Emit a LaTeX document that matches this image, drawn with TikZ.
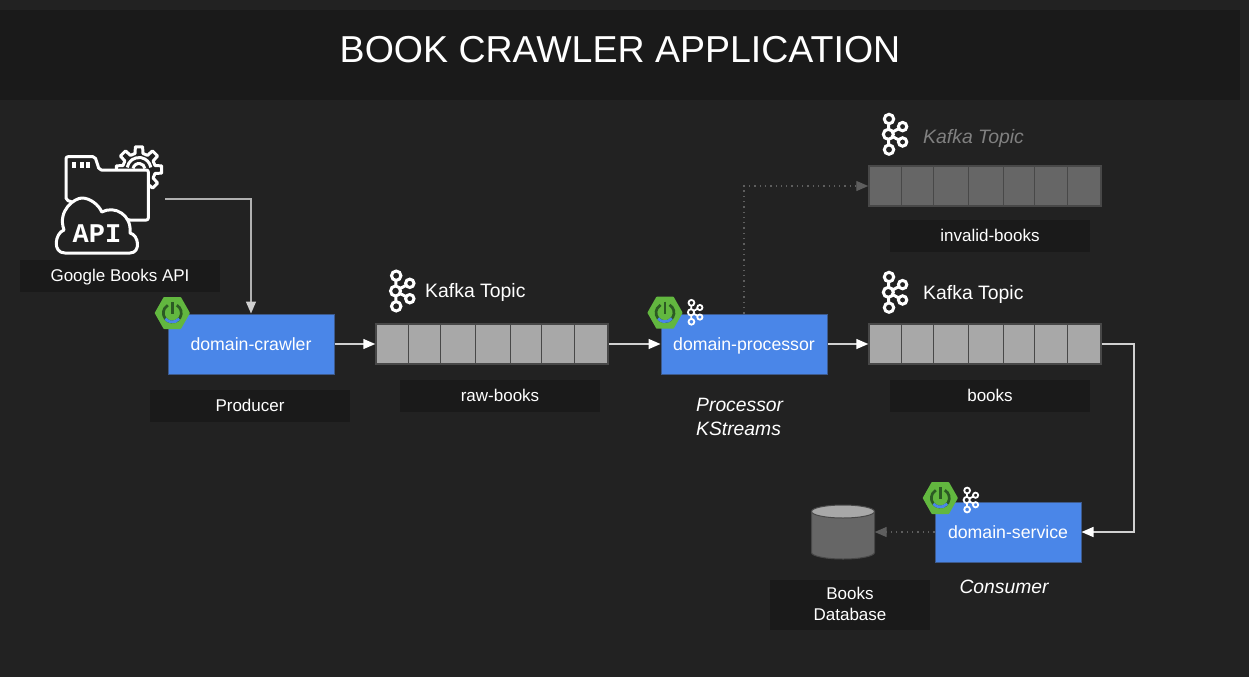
\documentclass[tikz,border=0pt]{standalone}
\usepackage{fontspec}
\setmainfont{Liberation Sans}
\newfontfamily\iconfont{Liberation Mono}
\usetikzlibrary{arrows.meta}
\definecolor{bgdark}{HTML}{222222}
\definecolor{banddark}{HTML}{1A1A1A}
\definecolor{svcblue}{HTML}{4A86E8}
\definecolor{svcedge}{HTML}{3D5A8C}
\definecolor{springgreen}{HTML}{62B73F}
\definecolor{springdark}{HTML}{2C5A24}
\definecolor{cellline}{HTML}{484848}
\definecolor{cellon}{HTML}{A8A8A8}
\definecolor{celloff}{HTML}{666666}
\definecolor{headoff}{HTML}{808080}
\definecolor{arrowon}{HTML}{D0D0D0}
\definecolor{arrowoff}{HTML}{5E5E5E}
\tikzset{
  service/.style={rectangle,draw=svcedge,line width=1pt,fill=svcblue,text=white,minimum height=60pt,inner sep=0pt,text height=16.6pt,text depth=4pt,font=\fontsize{17.7}{20}\selectfont},
  topic/.style={rectangle,draw=cellline,line width=1.5pt,minimum width=232pt,minimum height=40pt,inner sep=0pt},
  tag/.style={rectangle,fill=banddark,text=white,minimum height=32pt,inner sep=0pt,align=center,font=\fontsize{17}{21}\selectfont},
  tagline/.style={tag,minimum width=200pt,text height=16pt,text depth=4.2pt},
  head/.style={anchor=west,text=white,inner sep=0pt,font=\fontsize{19.4}{24}\selectfont},
  note/.style={text=white,inner sep=0pt,align=left,font=\fontsize{19.3}{24}\selectfont\itshape},
  flow/.style={draw=arrowon,line width=1.5pt,-{Triangle[length=12pt,width=10pt,color=white]}},
  apiflow/.style={draw=arrowon!85!black,line width=1.5pt,-{Triangle[length=12pt,width=10pt,color=arrowon]}},
  weakflow/.style={draw=arrowoff,line width=1.3pt,dash pattern=on 1.3pt off 4pt,-{Triangle[length=12pt,width=10pt,color=arrowoff]}},
  pics/kafkaicon/.style={code={
    \foreach \xa/\ya/\xb/\yb in {0.2/-5/0.5/-10.7, 0.2/5/0.5/10.7, 4.4/-2.4/10.6/-5.7, 4.4/2.4/10.6/5.7}{
      \draw[white] (\xa,\ya) -- (\xb,\yb);
    }
    \foreach \x/\y/\r in {0/0/5, 0.7/-15.3/4.7, 0.7/15.3/4.7, 14.3/-7.7/4.2, 14.3/7.7/4.2}{
      \draw[white] (\x,\y) circle (\r);
    }
  }},
  pics/springicon/.style={code={
    \fill[springgreen,draw=springgreen,line width=2pt,line join=round] (-16.5,0) -- (-8,-15) -- (8,-15) -- (16.5,0) -- (8,15) -- (-8,15) -- cycle;
    \draw[springdark,line width=2.7pt] (-60:9) arc (-60:240:9);
    \draw[svcblue,line width=2.7pt] (40:9) arc (40:140:9);
    \draw[springdark,line width=2.7pt] (0,-11) -- (0,1);
  }}
}
\begin{document}
\begin{tikzpicture}[x=1pt,y=-1pt]
  \useasboundingbox (0,0) rectangle (1249,677);
  \fill[bgdark] (0,0) rectangle (1249,677);
  \fill[banddark] (0,10) rectangle (1240,100);
  \node[text=white,font=\fontsize{37.5}{44}\selectfont] (title) at (620,50) {BOOK CRAWLER APPLICATION};
  % api icon
  \begin{scope}[white,line width=3pt,line join=round,shift={(40,135)}]
    \begin{scope}[shift={(99,34.5)}]
      \draw (-170:12) arc (-170:-10:12) (-170:6) arc (-170:-10:6);
      \draw (-14:16.5) \foreach \a in {0,45,...,315}{
        -- (\a-14:16.5) -- (\a-9:23) -- (\a+9:23) -- (\a+14:16.5)} -- cycle;
    \end{scope}
    \draw[fill=bgdark,rounded corners=2pt] (88,85) -- (108.3,85) -- (108.3,35) -- (59.3,35) -- (55,21.7) -- (26,21.7) -- (26,65) -- cycle;
    \foreach \x in {33.8,42,48.4}{
      \fill (\x-2,27.3) rectangle (\x+2,33.3);
    }
    \draw[fill=bgdark] (25,118) .. controls (12,118) and (15,98) .. (24,95)
      .. controls (17,75) and (35,63) .. (42,63) .. controls (50,63) and (59,70) .. (61.7,77)
      .. controls (75,70) and (92,80) .. (90,98) .. controls (99,100) and (101,118) .. (90,118) -- cycle;
  \end{scope}
  \node[white,inner sep=0pt,font=\fontsize{27}{30}\iconfont\bfseries] (apiword) at (97,234) {API};
  \coordinate (apiout) at (165,199);
  % services
  \node[service,minimum width=166pt] (crawler) at (251,344) {domain-crawler};
  \node[service,minimum width=166pt] (processor) at (744,344) {domain-processor};
  \node[service,minimum width=146pt] (consumer) at (1008,532) {domain-service};
  \foreach \x/\y in {172.3/313, 665/312.7, 940.3/498}{
    \pic at (\x,\y) {springicon};
  }
  \foreach \x/\y in {691/312.3, 966.7/500}{
    \pic[scale=.62,line width=1.8pt] at (\x,\y) {kafkaicon};
  }
  % topics
  \foreach \n/\x/\y/\c in {rawbooks/492/344/cellon, books/985/344/cellon, invalid/985/186/celloff}{
    \node[topic,fill=\c] (\n) at (\x,\y) {};
    \foreach \d in {33,65,100,135,166,199}{
      \draw[cellline,line width=1.2pt] ([xshift=\d pt]\n.north west) -- ([xshift=\d pt]\n.south west);
    }
  }
  \foreach \x/\y in {395.5/291, 888.3/292.3, 888.3/134.3}{
    \pic[line width=3pt] at (\x,\y) {kafkaicon};
  }
  \node[head] (rawhead) at (425,292) {Kafka Topic};
  \node[head] (bookshead) at (923,294) {Kafka Topic};
  \node[head,text=headoff,font=\fontsize{19.4}{24}\selectfont\itshape] (invalidhead) at (923,138) {Kafka Topic};
  % tags
  \node[tagline] (apitag) at (120,276) {Google Books API};
  \node[tagline] (producertag) at (250,406) {Producer};
  \node[tagline] (rawtag) at (500,396) {raw-books};
  \node[tagline] (bookstag) at (990,396) {books};
  \node[tagline] (invalidtag) at (990,236) {invalid-books};
  \node[tag,minimum width=160pt,minimum height=50pt,text height=34pt,text depth=4pt] (dbtag) at (850,605) {Books\\Database};
  \node[note,anchor=north west] (processornote) at (696,398) {Processor\\KStreams};
  \node[note] (consumernote) at (1004,587) {Consumer};
  % database
  \node[minimum width=63pt,minimum height=54pt,inner sep=0pt] (booksdb) at (843,532) {};
  \draw[cellline,line width=1pt,fill=celloff] (811.5,511.5) -- (811.5,552.5) arc (180:0:31.5 and 6.5) -- (874.5,511.5) -- cycle;
  \draw[cellline,line width=1pt,fill=cellon] (843,511.5) ellipse (31.5 and 6.5);
  % connectors
  \coordinate (turn) at (1134,344);
  \draw[apiflow] (apiout) -| (crawler);
  \draw[flow] (crawler) -- (rawbooks);
  \draw[flow] (rawbooks) -- (processor);
  \draw[flow] (processor) -- (books);
  \draw[flow] (books) -- (turn) |- (consumer);
  \draw[weakflow] (processor.north) |- (invalid);
  \draw[weakflow] (consumer) -- (booksdb);
\end{tikzpicture}
\end{document}
